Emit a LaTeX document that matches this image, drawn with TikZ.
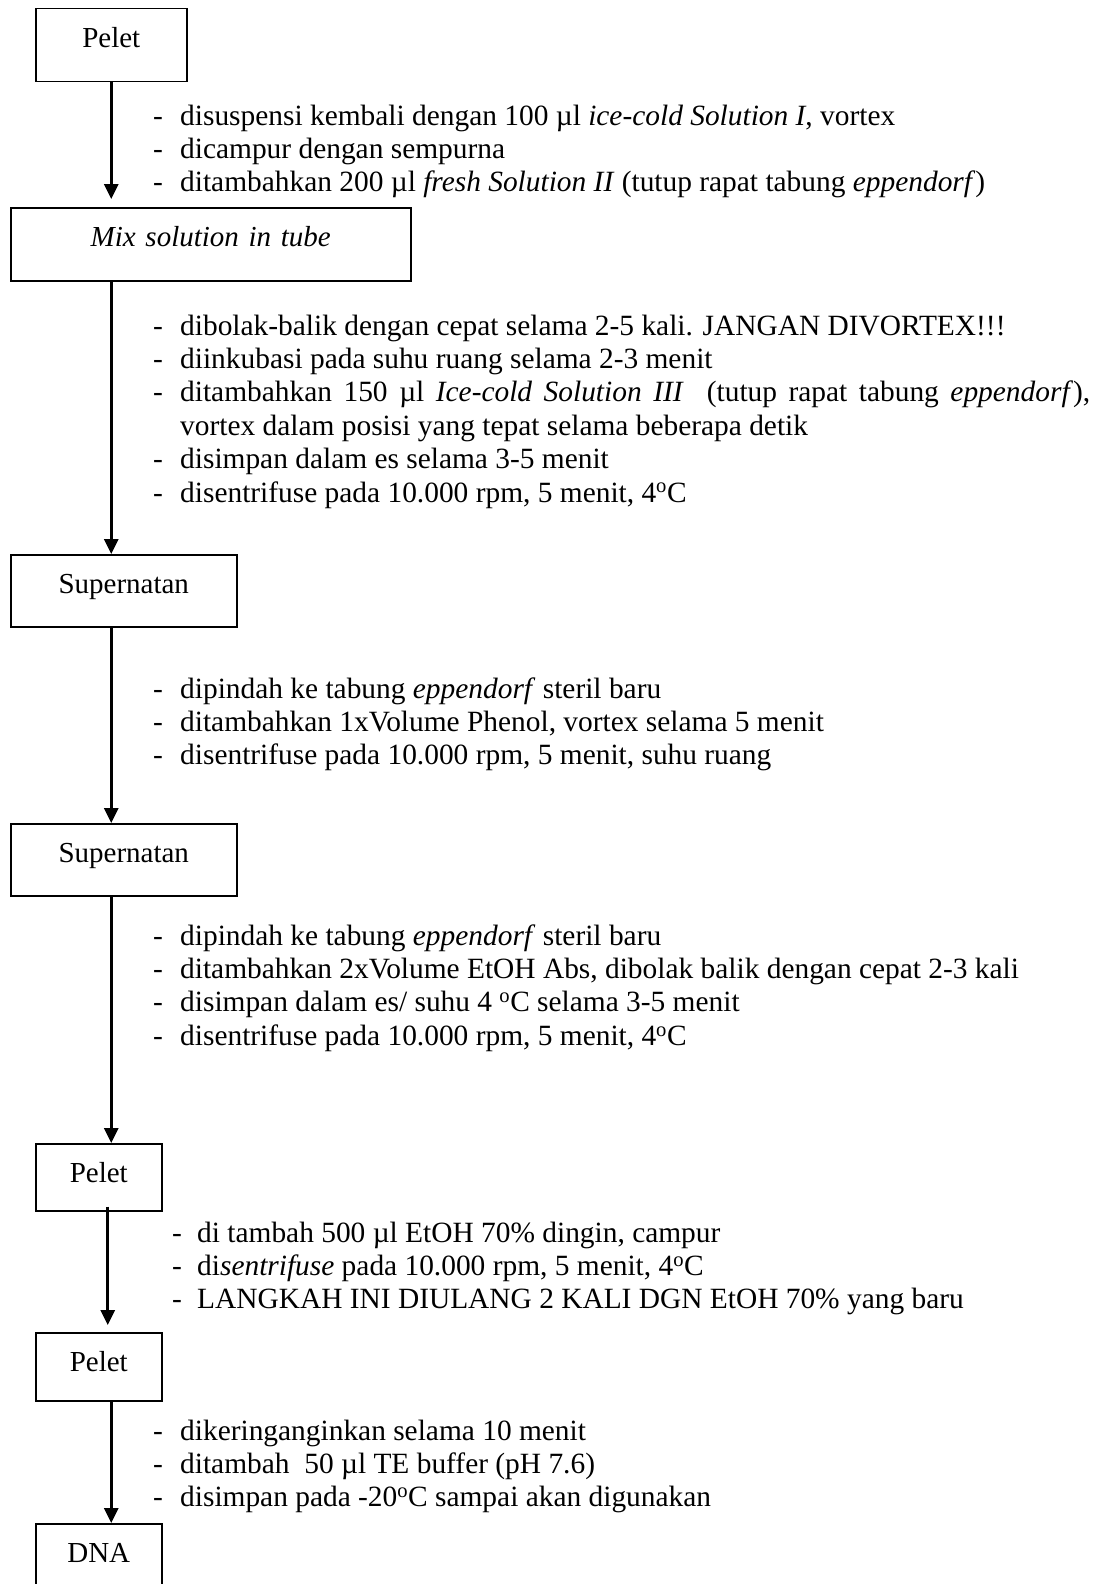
\documentclass[tikz,border=0pt]{standalone}
\usepackage{fontspec}
\setmainfont{Liberation Serif}
\usetikzlibrary{arrows.meta,calc}
\newcommand\dsh{\makebox[27pt][l]{-}}
\newcommand\dshb{\makebox[25pt][l]{-}}
\newcommand\dg{\textsuperscript{o}}
\tikzset{
  box/.style={draw, line width=1.5pt, inner sep=0pt, anchor=north west, align=center, text height=39pt},
  flow/.style={line width=2.6pt, -{Triangle[width=14pt,length=15pt]}},
  item/.style={anchor=base west, inner sep=0pt, font=\fontsize{29.4}{33.4}\selectfont},
}
\begin{document}
\begin{tikzpicture}[x=1pt,y=-1pt,font=\fontsize{29}{33.4}\selectfont]
\useasboundingbox (0,0) rectangle (1095,1584);
\clip (0,0) rectangle (1095,1584);
% boxes
\node[box, text width=151pt, text depth=34pt] (p1) at (35,8) {Pelet};
\node[box, text width=400pt, text depth=34pt] (mix) at (10,207) {\textit{Mix solution in tube}};
\node[box, text width=226pt, text depth=33pt] (s1) at (10,554) {Supernatan};
\node[box, text width=226pt, text depth=33pt] (s2) at (10,823) {Supernatan};
\node[box, text width=126pt, text depth=28pt] (p5) at (35,1143) {Pelet};
\node[box, text width=126pt, text depth=29pt] (p6) at (35,1332) {Pelet};
\node[box, text width=126pt, text depth=40pt] (dna) at (35,1523) {DNA};
% arrows
\draw[flow] (p1.south) -- ($(p1.south |- mix.north)+(0,-8)$);
\draw[flow] (p1.south |- mix.south) -- (p1.south |- s1.north);
\draw[flow] (p1.south |- s1.south) -- (p1.south |- s2.north);
\draw[flow] (p1.south |- s2.south) -- (p1.south |- p5.north);
\draw[flow] ($(p5.south)+(9,-5)$) -- ($(p5.south |- p6.north)+(9,-7)$);
\draw[flow] (p1.south |- p6.south) -- (p1.south |- dna.north);
% block 1
\node[item] (t11) at (153,125) {\dsh disuspensi kembali dengan 100 µl \textit{ice-cold Solution I}, vortex};
\node[item] (t12) at (153,158.4) {\dsh dicampur dengan sempurna};
\node[item] (t13) at (153,191.8) {\dsh ditambahkan 200 µl \textit{fresh Solution II} (tutup rapat tabung \textit{eppendorf})};
% block 2
\node[item] (t21) at (153,335) {\dsh dibolak-balik dengan cepat selama 2-5 kali. JANGAN DIVORTEX!!!};
\node[item] (t22) at (153,368.4) {\dsh diinkubasi pada suhu ruang selama 2-3 menit};
\node[item] (t23) at (153,401.8) {\dsh\makebox[910pt][s]{ditambahkan 150 µl \textit{Ice-cold Solution III}\ \ (tutup rapat tabung \textit{eppendorf}),}};
\node[item] (t24) at (180,435.2) {vortex dalam posisi yang tepat selama beberapa detik};
\node[item] (t25) at (153,468.6) {\dsh disimpan dalam es selama 3-5 menit};
\node[item] (t26) at (153,502) {\dsh disentrifuse pada 10.000 rpm, 5 menit, 4\dg C};
% block 3
\node[item] (t31) at (153,698) {\dsh dipindah ke tabung \textit{eppendorf} steril baru};
\node[item] (t32) at (153,731.4) {\dsh ditambahkan 1xVolume Phenol, vortex selama 5 menit};
\node[item] (t33) at (153,764.8) {\dsh disentrifuse pada 10.000 rpm, 5 menit, suhu ruang};
% block 4
\node[item] (t41) at (153,945) {\dsh dipindah ke tabung \textit{eppendorf} steril baru};
\node[item] (t42) at (153,978.4) {\dsh ditambahkan 2xVolume EtOH Abs, dibolak balik dengan cepat 2-3 kali};
\node[item] (t43) at (153,1011.8) {\dsh disimpan dalam es/ suhu 4 \dg C selama 3-5 menit};
\node[item] (t44) at (153,1045.2) {\dsh disentrifuse pada 10.000 rpm, 5 menit, 4\dg C};
% block 5
\node[item] (t51) at (172,1242) {\dshb di tambah 500 µl EtOH 70\% dingin, campur};
\node[item] (t52) at (172,1275.4) {\dshb di\textit{sentrifuse} pada 10.000 rpm, 5 menit, 4\dg C};
\node[item] (t53) at (172,1308.8) {\dshb LANGKAH INI DIULANG 2 KALI DGN EtOH 70\% yang baru};
% block 6
\node[item] (t61) at (153,1440) {\dsh dikeringanginkan selama 10 menit};
\node[item] (t62) at (153,1473.4) {\dsh ditambah\ \ 50 µl TE buffer (pH 7.6)};
\node[item] (t63) at (153,1506.8) {\dsh disimpan pada -20\dg C sampai akan digunakan};
\end{tikzpicture}
\end{document}
